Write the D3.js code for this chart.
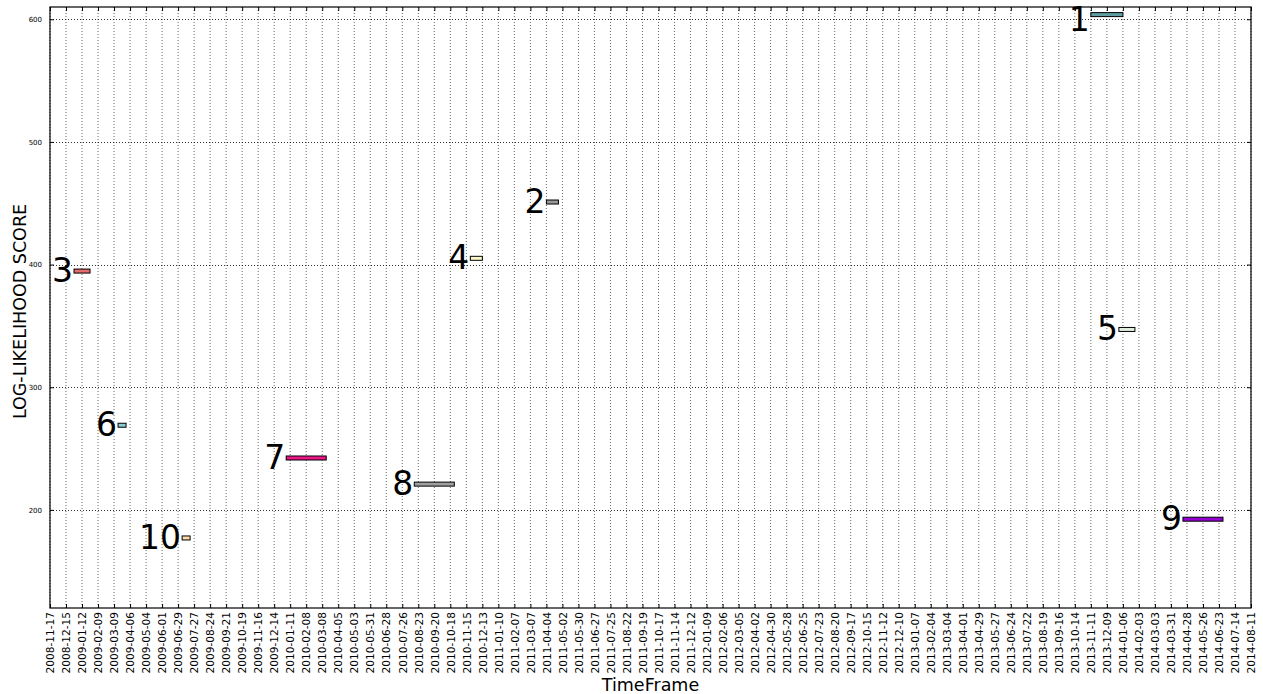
<!DOCTYPE html>
<html>
<head>
<meta charset="utf-8">
<script src="https://cdn.jsdelivr.net/npm/d3@7"></script>
<style>
    body { margin: 0; background: #fff; }
    #vis text { font-family: "DejaVu Sans", sans-serif; fill: #000; }
</style>
</head>
<body>
<div id="vis"></div>
<script>
// tick labels on the time axis, one every four weeks
var tickLabels = [
    '2008-11-17', '2008-12-15', '2009-01-12', '2009-02-09', '2009-03-09', '2009-04-06',
    '2009-05-04', '2009-06-01', '2009-06-29', '2009-07-27', '2009-08-24', '2009-09-21',
    '2009-10-19', '2009-11-16', '2009-12-14', '2010-01-11', '2010-02-08', '2010-03-08',
    '2010-04-05', '2010-05-03', '2010-05-31', '2010-06-28', '2010-07-26', '2010-08-23',
    '2010-09-20', '2010-10-18', '2010-11-15', '2010-12-13', '2011-01-10', '2011-02-07',
    '2011-03-07', '2011-04-04', '2011-05-02', '2011-05-30', '2011-06-27', '2011-07-25',
    '2011-08-22', '2011-09-19', '2011-10-17', '2011-11-14', '2011-12-12', '2012-01-09',
    '2012-02-06', '2012-03-05', '2012-04-02', '2012-04-30', '2012-05-28', '2012-06-25',
    '2012-07-23', '2012-08-20', '2012-09-17', '2012-10-15', '2012-11-12', '2012-12-10',
    '2013-01-07', '2013-02-04', '2013-03-04', '2013-04-01', '2013-04-29', '2013-05-27',
    '2013-06-24', '2013-07-22', '2013-08-19', '2013-09-16', '2013-10-14', '2013-11-11',
    '2013-12-09', '2014-01-06', '2014-02-03', '2014-03-03', '2014-03-31', '2014-04-28',
    '2014-05-26', '2014-06-23', '2014-07-14', '2014-08-11'];

var yTicks = [200, 300, 400, 500, 600];
var yDomain = [120, 610];

// one bar per ranked time frame
var ranks = [1, 2, 3, 4, 5, 6, 7, 8, 9, 10];
var startDates = ['2013-11-11', '2011-04-04', '2008-12-29', '2010-11-22', '2013-12-30',
    '2009-03-16', '2010-01-04', '2010-08-16', '2014-04-21', '2009-07-06'];
var endDates = ['2014-01-06', '2011-04-25', '2009-01-26', '2010-12-13', '2014-01-27',
    '2009-03-30', '2010-03-15', '2010-10-25', '2014-06-30', '2009-07-20'];
var scores = [603.8, 451, 394.7, 405.1, 347.1, 269, 242.3, 221, 192.4, 177.1];
var barColors = ['#5f9ea0', '#999999', '#e46c6c', '#fbf6c8', '#e0eee0',
    '#8ccad4', '#ee1686', '#a0a0a0', '#9400d3', '#fbdca8'];

class LikelihoodChart
{
    constructor(width, height)
    {
        this.width = width;
        this.height = height;
        this.margin = { left: 50, top: 7, right: 12, bottom: 86 };
        this.tickStep = 28;     // days between ticks
        this.barHeight = 4;
        this.labelSize = 33;

        this.svg = d3.select('#vis')
            .append('svg')
                .attr('width', this.width)
                .attr('height', this.height);

        this.innerW = this.width - this.margin.left - this.margin.right;
        this.innerH = this.height - this.margin.top - this.margin.bottom;

        this.g = this.svg.append('g')
            .attr('transform', 'translate(' + this.margin.left + ',' + this.margin.top + ')');

        this.origin = Date.parse(tickLabels[0]);
        this.xScale = d3.scaleLinear()
            .domain([0, (tickLabels.length - 1) * this.tickStep])
            .range([0, this.innerW]);
        this.yScale = d3.scaleLinear()
            .domain(yDomain)
            .range([this.innerH, 0]);
    }

    // days since the first tick
    dayOf(s)
    {
        return (Date.parse(s) - this.origin) / 864e5;
    }

    drawGrid()
    {
        var that = this;
        var tickPos = tickLabels.map(function(d, i) { return i * that.tickStep; });

        this.g.append('g').selectAll('line')
            .data(tickPos)
            .enter().append('line')
                .attr('x1', function(d) { return that.xScale(d); })
                .attr('x2', function(d) { return that.xScale(d); })
                .attr('y1', 0)
                .attr('y2', this.innerH)
                .attr('stroke', '#000')
                .attr('stroke-width', 0.6)
                .attr('stroke-dasharray', '1,2');

        this.g.append('g').selectAll('line')
            .data(yTicks)
            .enter().append('line')
                .attr('x1', 0)
                .attr('x2', this.innerW)
                .attr('y1', function(d) { return Math.round(that.yScale(d)) + 0.5; })
                .attr('y2', function(d) { return Math.round(that.yScale(d)) + 0.5; })
                .attr('stroke', '#000')
                .attr('stroke-width', 0.8)
                .attr('stroke-dasharray', '1,2');
    }

    drawAxes()
    {
        var that = this;
        var tickPos = tickLabels.map(function(d, i) { return i * that.tickStep; });

        var xBottom = d3.axisBottom(this.xScale)
            .tickValues(tickPos)
            .tickSizeInner(-4)
            .tickSizeOuter(0)
            .tickFormat(function(d, i) { return tickLabels[i]; });
        var gx = this.g.append('g')
            .attr('transform', 'translate(0,' + this.innerH + ')')
            .call(xBottom);
        gx.selectAll('text')
            .attr('font-size', 10.6)
            .attr('text-anchor', 'end')
            .attr('dy', '0.35em')
            .attr('y', 0)
            .attr('x', 0)
            .attr('transform', 'translate(0,4) rotate(-90)');

        var xTop = d3.axisTop(this.xScale)
            .tickValues(tickPos)
            .tickSizeInner(-4)
            .tickSizeOuter(0)
            .tickFormat('');
        this.g.append('g').call(xTop);

        var yLeft = d3.axisLeft(this.yScale)
            .tickValues(yTicks)
            .tickSizeInner(-4)
            .tickSizeOuter(0)
            .tickPadding(8)
            .tickFormat(d3.format('d'));
        var gy = this.g.append('g').call(yLeft);
        gy.selectAll('text').attr('font-size', 7);

        var yRight = d3.axisRight(this.yScale)
            .tickValues(yTicks)
            .tickSizeInner(-4)
            .tickSizeOuter(0)
            .tickFormat('');
        this.g.append('g')
            .attr('transform', 'translate(' + this.innerW + ',0)')
            .call(yRight);

        this.g.selectAll('.domain').remove();
        this.g.selectAll('.tick line').attr('stroke', '#000').attr('stroke-width', 1);

        // frame
        this.g.append('rect')
            .attr('x', 0)
            .attr('y', 0)
            .attr('width', this.innerW)
            .attr('height', this.innerH)
            .attr('fill', 'none')
            .attr('stroke', '#000')
            .attr('stroke-width', 1.2);

        // axis titles
        this.svg.append('text')
            .attr('transform', 'translate(26,' + (this.margin.top + this.innerH / 2 + 4) + ') rotate(-90)')
            .attr('text-anchor', 'middle')
            .attr('font-size', 17.5)
            .text('LOG-LIKELIHOOD SCORE');

        this.svg.append('text')
            .attr('x', this.margin.left + this.innerW / 2)
            .attr('y', 691)
            .attr('text-anchor', 'middle')
            .attr('font-size', 17.5)
            .text('TimeFrame');
    }

    drawBars()
    {
        var that = this;
        var data = ranks.map(function(r, i) {
            return {rank: r, start: that.dayOf(startDates[i]), end: that.dayOf(endDates[i]),
                score: scores[i], color: barColors[i]};
        });

        var bars = this.g.append('g').selectAll('g')
            .data(data)
            .enter().append('g');

        bars.append('rect')
            .attr('x', function(d) { return that.xScale(d.start); })
            .attr('y', function(d) { return that.yScale(d.score) - that.barHeight / 2; })
            .attr('width', function(d) { return that.xScale(d.end) - that.xScale(d.start); })
            .attr('height', this.barHeight)
            .attr('fill', function(d) { return d.color; })
            .attr('stroke', '#000')
            .attr('stroke-width', 1);

        // keep the rank digits inside the frame
        var minCenter = this.labelSize * 0.37;
        bars.append('text')
            .attr('x', function(d) { return that.xScale(d.start) - 1; })
            .attr('y', function(d) { return Math.max(that.yScale(d.score) - 1, minCenter); })
            .attr('dy', '0.36em')
            .attr('text-anchor', 'end')
            .attr('font-size', this.labelSize)
            .text(function(d) { return d.rank; });
    }

    Run()
    {
        this.drawGrid();
        this.drawBars();
        this.drawAxes();
    }
}

window.onload = function()
{
    var chart = new LikelihoodChart(1263, 694);
    chart.Run();
}
</script>
</body>
</html>
